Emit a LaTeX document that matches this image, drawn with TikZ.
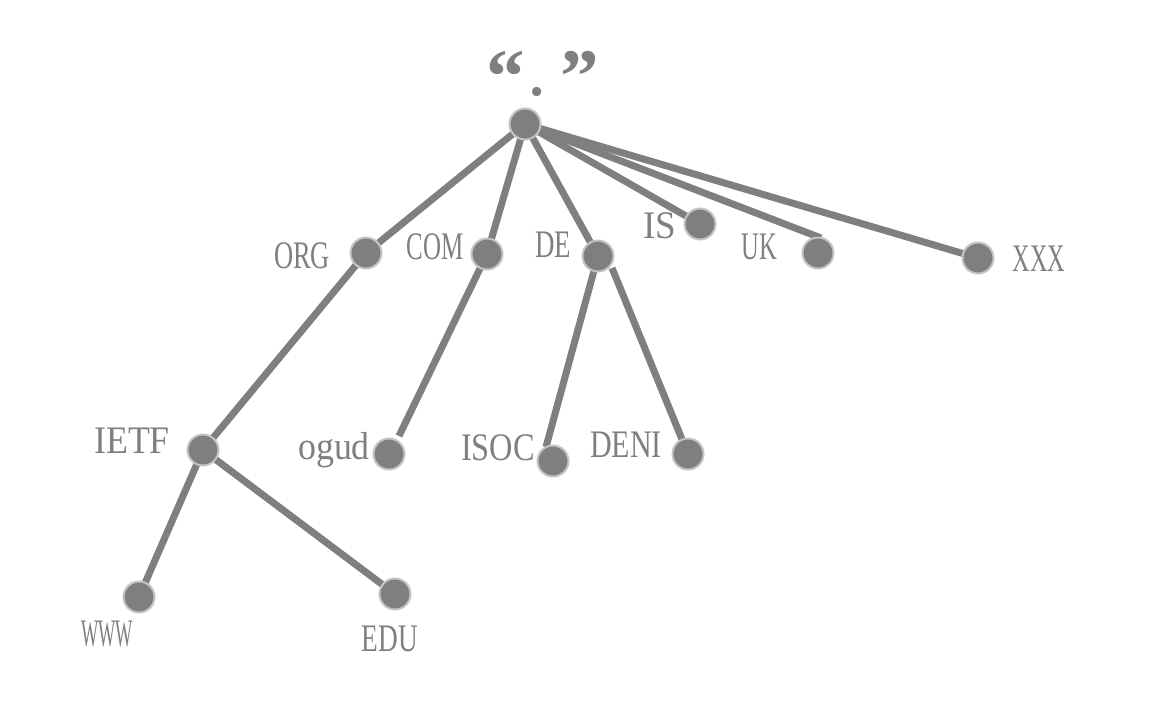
\documentclass[tikz,border=0pt]{standalone}
\usepackage{fontspec}
\setmainfont{Liberation Serif}
\usepackage{graphicx}
\usetikzlibrary{backgrounds}
\definecolor{gr}{HTML}{7F7F7F}
\definecolor{grl}{HTML}{C4C4C4}
\newcommand{\lbl}[2]{\scalebox{#1}[1]{#2}}
\begin{document}
\begin{tikzpicture}[x=1pt,y=-1pt,
  dnode/.style={circle,fill=gr,draw=grl,line width=2pt,minimum size=31pt,inner sep=0pt},
  link/.style={draw=gr,line width=7pt},
  lab/.style={text=gr,font=\fontsize{39}{42}\selectfont,inner sep=0pt}]
\useasboundingbox (0,0) rectangle (1160,710);
% title
\node[text=gr,font=\fontsize{77}{82}\selectfont\bfseries,inner sep=0pt,anchor=base west] (title) at (486,102)
  {“\hspace{3pt}\raisebox{7pt}{\mdseries.}\hspace{14pt}”};
% nodes
\node[dnode] (root) at (525,124) {};
\node[dnode] (org) at (366,253) {};
\node[dnode] (com) at (487,254) {};
\node[dnode] (de) at (598,256) {};
\node[dnode] (is) at (700,224) {};
\node[dnode] (uk) at (818,253) {};
\node[dnode] (xxx) at (978,258) {};
\node[dnode] (ietf) at (203,450) {};
\node[dnode] (ogud) at (389,454) {};
\node[dnode] (isoc) at (553,461) {};
\node[dnode] (deni) at (688,454) {};
\node[dnode] (www) at (139,597) {};
\node[dnode] (edu) at (395,594) {};
% connector ends
\coordinate (ukend) at (821,238);
\coordinate (ogudend) at (399,436);
\coordinate (isocend) at (546,447);
\coordinate (denistart) at (612,268);
% labels
\node[lab] (lorg) at (302,255.5) {\lbl{0.68}{ORG}};
\node[lab] (lcom) at (435,247) {\lbl{0.64}{COM}};
\node[lab] (lde) at (553,245) {\lbl{0.69}{DE}};
\node[lab] (lis) at (660,226) {\lbl{0.95}{IS}};
\node[lab] (luk) at (759,247) {\lbl{0.63}{UK}};
\node[lab] (lxxx) at (1039,258.5) {\lbl{0.62}{XXX}};
\node[lab] (lietf) at (132,441) {\lbl{0.92}{IETF}};
\node[lab,anchor=base] (logud) at (334,459) {\lbl{0.92}{ogud}};
\node[lab] (lisoc) at (498,447.5) {\lbl{0.83}{ISOC}};
\node[lab] (ldeni) at (626,445) {\lbl{0.77}{DENI}};
\node[lab] (lwww) at (107,634) {\lbl{0.47}{WWW}};
\node[lab] (ledu) at (390,639) {\lbl{0.70}{EDU}};
% connectors
\begin{pgfonlayer}{background}
\draw[link] (root.center) -- (org.center);
\draw[link] (root.center) -- (com.center);
\draw[link] (root.center) -- (de.center);
\draw[link] (root.center) -- (is.center);
\draw[link] (root.center) -- (ukend);
\draw[link] (root.center) -- (xxx.center);
\draw[link] (org.center) -- (ietf.center);
\draw[link] (com.center) -- (ogudend);
\draw[link] (de.center) -- (isocend);
\draw[link] (denistart) -- (deni.center);
\draw[link] (ietf.center) -- (www.center);
\draw[link] (ietf.center) -- (edu.center);
\end{pgfonlayer}
\end{tikzpicture}
\end{document}
